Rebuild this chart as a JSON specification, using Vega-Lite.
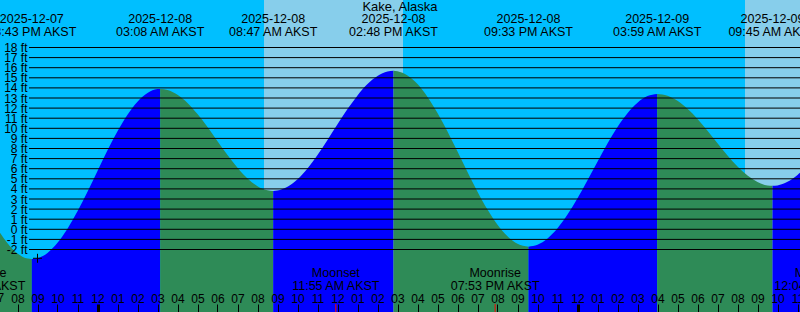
{
  "$schema": "https://vega.github.io/schema/vega-lite/v6.json",
  "width": 800,
  "height": 312,
  "autosize": "none",
  "padding": 0,
  "background": "#00bfff",
  "config": {
    "view": {"stroke": null},
    "axis": {"title": null},
    "text": {"font": "Liberation Sans", "fontSize": 12.5, "color": "black"}
  },
  "datasets": {
    "tide": [
      {"hour": 18.5, "ft": 1.83, "seg": "A", "dir": "fall"},
      {"hour": 19, "ft": 0.04, "seg": "A", "dir": "fall"},
      {"hour": 19.5, "ft": -1.38, "seg": "A", "dir": "fall"},
      {"hour": 20, "ft": -2.4, "seg": "A", "dir": "fall"},
      {"hour": 20.5, "ft": -2.9, "seg": "A", "dir": "fall"},
      {"hour": 20.717, "ft": -2.95, "seg": "A", "dir": "fall"},
      {"hour": 20.717, "ft": -2.95, "seg": "B", "dir": "rise"},
      {"hour": 21, "ft": -2.87, "seg": "B", "dir": "rise"},
      {"hour": 21.5, "ft": -2.34, "seg": "B", "dir": "rise"},
      {"hour": 22, "ft": -1.34, "seg": "B", "dir": "rise"},
      {"hour": 22.5, "ft": 0.06, "seg": "B", "dir": "rise"},
      {"hour": 23, "ft": 1.78, "seg": "B", "dir": "rise"},
      {"hour": 23.5, "ft": 3.73, "seg": "B", "dir": "rise"},
      {"hour": 24, "ft": 5.78, "seg": "B", "dir": "rise"},
      {"hour": 24.5, "ft": 7.82, "seg": "B", "dir": "rise"},
      {"hour": 25, "ft": 9.71, "seg": "B", "dir": "rise"},
      {"hour": 25.5, "ft": 11.35, "seg": "B", "dir": "rise"},
      {"hour": 26, "ft": 12.64, "seg": "B", "dir": "rise"},
      {"hour": 26.5, "ft": 13.5, "seg": "B", "dir": "rise"},
      {"hour": 27, "ft": 13.88, "seg": "B", "dir": "rise"},
      {"hour": 27.133, "ft": 13.9, "seg": "B", "dir": "rise"},
      {"hour": 27.133, "ft": 13.9, "seg": "C", "dir": "fall"},
      {"hour": 27.5, "ft": 13.8, "seg": "C", "dir": "fall"},
      {"hour": 28, "ft": 13.32, "seg": "C", "dir": "fall"},
      {"hour": 28.5, "ft": 12.51, "seg": "C", "dir": "fall"},
      {"hour": 29, "ft": 11.41, "seg": "C", "dir": "fall"},
      {"hour": 29.5, "ft": 10.12, "seg": "C", "dir": "fall"},
      {"hour": 30, "ft": 8.73, "seg": "C", "dir": "fall"},
      {"hour": 30.5, "ft": 7.35, "seg": "C", "dir": "fall"},
      {"hour": 31, "ft": 6.09, "seg": "C", "dir": "fall"},
      {"hour": 31.5, "ft": 5.03, "seg": "C", "dir": "fall"},
      {"hour": 32, "ft": 4.27, "seg": "C", "dir": "fall"},
      {"hour": 32.5, "ft": 3.86, "seg": "C", "dir": "fall"},
      {"hour": 32.783, "ft": 3.8, "seg": "C", "dir": "fall"},
      {"hour": 32.783, "ft": 3.8, "seg": "D", "dir": "rise"},
      {"hour": 33, "ft": 3.84, "seg": "D", "dir": "rise"},
      {"hour": 33.5, "ft": 4.21, "seg": "D", "dir": "rise"},
      {"hour": 34, "ft": 4.96, "seg": "D", "dir": "rise"},
      {"hour": 34.5, "ft": 6.03, "seg": "D", "dir": "rise"},
      {"hour": 35, "ft": 7.36, "seg": "D", "dir": "rise"},
      {"hour": 35.5, "ft": 8.85, "seg": "D", "dir": "rise"},
      {"hour": 36, "ft": 10.4, "seg": "D", "dir": "rise"},
      {"hour": 36.5, "ft": 11.9, "seg": "D", "dir": "rise"},
      {"hour": 37, "ft": 13.26, "seg": "D", "dir": "rise"},
      {"hour": 37.5, "ft": 14.38, "seg": "D", "dir": "rise"},
      {"hour": 38, "ft": 15.18, "seg": "D", "dir": "rise"},
      {"hour": 38.5, "ft": 15.63, "seg": "D", "dir": "rise"},
      {"hour": 38.8, "ft": 15.7, "seg": "D", "dir": "rise"},
      {"hour": 38.8, "ft": 15.7, "seg": "E", "dir": "fall"},
      {"hour": 39, "ft": 15.66, "seg": "E", "dir": "fall"},
      {"hour": 39.5, "ft": 15.24, "seg": "E", "dir": "fall"},
      {"hour": 40, "ft": 14.38, "seg": "E", "dir": "fall"},
      {"hour": 40.5, "ft": 13.11, "seg": "E", "dir": "fall"},
      {"hour": 41, "ft": 11.52, "seg": "E", "dir": "fall"},
      {"hour": 41.5, "ft": 9.68, "seg": "E", "dir": "fall"},
      {"hour": 42, "ft": 7.7, "seg": "E", "dir": "fall"},
      {"hour": 42.5, "ft": 5.68, "seg": "E", "dir": "fall"},
      {"hour": 43, "ft": 3.73, "seg": "E", "dir": "fall"},
      {"hour": 43.5, "ft": 1.95, "seg": "E", "dir": "fall"},
      {"hour": 44, "ft": 0.45, "seg": "E", "dir": "fall"},
      {"hour": 44.5, "ft": -0.69, "seg": "E", "dir": "fall"},
      {"hour": 45, "ft": -1.44, "seg": "E", "dir": "fall"},
      {"hour": 45.55, "ft": -1.72, "seg": "E", "dir": "fall"},
      {"hour": 45.55, "ft": -1.72, "seg": "F", "dir": "rise"},
      {"hour": 46, "ft": -1.54, "seg": "F", "dir": "rise"},
      {"hour": 46.5, "ft": -0.92, "seg": "F", "dir": "rise"},
      {"hour": 47, "ft": 0.1, "seg": "F", "dir": "rise"},
      {"hour": 47.5, "ft": 1.46, "seg": "F", "dir": "rise"},
      {"hour": 48, "ft": 3.08, "seg": "F", "dir": "rise"},
      {"hour": 48.5, "ft": 4.86, "seg": "F", "dir": "rise"},
      {"hour": 49, "ft": 6.7, "seg": "F", "dir": "rise"},
      {"hour": 49.5, "ft": 8.49, "seg": "F", "dir": "rise"},
      {"hour": 50, "ft": 10.13, "seg": "F", "dir": "rise"},
      {"hour": 50.5, "ft": 11.5, "seg": "F", "dir": "rise"},
      {"hour": 51, "ft": 12.54, "seg": "F", "dir": "rise"},
      {"hour": 51.5, "ft": 13.19, "seg": "F", "dir": "rise"},
      {"hour": 51.983, "ft": 13.4, "seg": "F", "dir": "rise"},
      {"hour": 51.983, "ft": 13.4, "seg": "G", "dir": "fall"},
      {"hour": 52.5, "ft": 13.22, "seg": "G", "dir": "fall"},
      {"hour": 53, "ft": 12.72, "seg": "G", "dir": "fall"},
      {"hour": 53.5, "ft": 11.93, "seg": "G", "dir": "fall"},
      {"hour": 54, "ft": 10.92, "seg": "G", "dir": "fall"},
      {"hour": 54.5, "ft": 9.75, "seg": "G", "dir": "fall"},
      {"hour": 55, "ft": 8.52, "seg": "G", "dir": "fall"},
      {"hour": 55.5, "ft": 7.31, "seg": "G", "dir": "fall"},
      {"hour": 56, "ft": 6.21, "seg": "G", "dir": "fall"},
      {"hour": 56.5, "ft": 5.32, "seg": "G", "dir": "fall"},
      {"hour": 57, "ft": 4.68, "seg": "G", "dir": "fall"},
      {"hour": 57.5, "ft": 4.34, "seg": "G", "dir": "fall"},
      {"hour": 57.75, "ft": 4.3, "seg": "G", "dir": "fall"},
      {"hour": 57.75, "ft": 4.3, "seg": "H", "dir": "rise"},
      {"hour": 58, "ft": 4.34, "seg": "H", "dir": "rise"},
      {"hour": 58.5, "ft": 4.7, "seg": "H", "dir": "rise"},
      {"hour": 59, "ft": 5.38, "seg": "H", "dir": "rise"},
      {"hour": 59.5, "ft": 6.34, "seg": "H", "dir": "rise"},
      {"hour": 60, "ft": 7.52, "seg": "H", "dir": "rise"}
    ],
    "sun": [
      {"rise": 32.325, "set": 39.275},
      {"rise": 56.375, "set": 63.25}
    ],
    "levels": [
      {"lvl": -2}, {"lvl": -1}, {"lvl": 0}, {"lvl": 1}, {"lvl": 2}, {"lvl": 3}, {"lvl": 4},
      {"lvl": 5}, {"lvl": 6}, {"lvl": 7}, {"lvl": 8}, {"lvl": 9}, {"lvl": 10}, {"lvl": 11},
      {"lvl": 12}, {"lvl": 13}, {"lvl": 14}, {"lvl": 15}, {"lvl": 16}, {"lvl": 17}, {"lvl": 18}
    ],
    "extremes": [
      {"hour": 20.717, "lab": "2025-12-07\n08:43 PM AKST"},
      {"hour": 27.133, "lab": "2025-12-08\n03:08 AM AKST"},
      {"hour": 32.783, "lab": "2025-12-08\n08:47 AM AKST"},
      {"hour": 38.8, "lab": "2025-12-08\n02:48 PM AKST"},
      {"hour": 45.55, "lab": "2025-12-08\n09:33 PM AKST"},
      {"hour": 51.983, "lab": "2025-12-09\n03:59 AM AKST"},
      {"hour": 57.75, "lab": "2025-12-09\n09:45 AM AKST"}
    ],
    "moon": [
      {"hour": 18.167, "lab": "Moonrise\n06:10 PM AKST"},
      {"hour": 35.917, "lab": "Moonset\n11:55 AM AKST"},
      {"hour": 43.883, "lab": "Moonrise\n07:53 PM AKST"},
      {"hour": 60.067, "lab": "Moonset\n12:04 PM AKST"}
    ],
    "now": [
      {"hour": 21, "ft": -2.87}
    ],
    "edgehour": [
      {"hour": 19, "lab": "07"}
    ]
  },
  "layer": [
    {
      "data": {"name": "sun"},
      "mark": {"type": "rect", "color": "#87ceeb", "clip": true},
      "encoding": {
        "x": {
          "field": "rise", "type": "quantitative",
          "scale": {"domain": [19.125, 59.125], "nice": false, "zero": false},
          "axis": {
            "orient": "top", "offset": -312,
            "values": [19, 20, 21, 22, 23, 24, 25, 26, 27, 28, 29, 30, 31, 32, 33, 34, 35, 36, 37, 38, 39, 40, 41, 42, 43, 44, 45, 46, 47, 48, 49, 50, 51, 52, 53, 54, 55, 56, 57, 58, 59],
            "tickCount": 1000,
            "labelExpr": "pad('' + ((datum.value % 12) || 12), 2, '0', 'left')",
            "domain": false, "grid": false,
            "tickSize": 8, "tickColor": "black",
            "tickWidth": {"condition": {"test": "datum.value % 24 === 0", "value": 3}, "value": 1},
            "labelPadding": 2, "labelBaseline": "alphabetic",
            "labelFont": "Liberation Sans", "labelFontSize": 12, "labelColor": "black",
            "labelOverlap": false, "labelFlush": false, "labelBound": false,
            "zindex": 1, "title": null
          }
        },
        "x2": {"field": "set"}
      }
    },
    {
      "data": {"name": "tide"},
      "mark": {"type": "area", "interpolate": "monotone", "clip": true},
      "encoding": {
        "x": {"field": "hour", "type": "quantitative"},
        "y": {
          "field": "ft", "type": "quantitative", "stack": null,
          "scale": {"domain": [-8.188, 22.703], "nice": false, "zero": false},
          "axis": {
            "orient": "left", "offset": -29,
            "values": [-2, -1, 0, 1, 2, 3, 4, 5, 6, 7, 8, 9, 10, 11, 12, 13, 14, 15, 16, 17, 18],
            "tickCount": 1000,
            "labelExpr": "datum.value + ' ft'",
            "ticks": false, "domain": false, "grid": false,
            "labelPadding": 2, "labelBaseline": "middle",
            "labelFont": "Liberation Sans", "labelFontSize": 12, "labelColor": "black",
            "labelOverlap": false, "labelFlush": false, "labelBound": false,
            "zindex": 1, "title": null
          }
        },
        "y2": {"datum": -8.188},
        "color": {
          "field": "dir", "type": "nominal",
          "scale": {"domain": ["rise", "fall"], "range": ["#0000ff", "#2e8b57"]},
          "legend": null
        },
        "detail": {"field": "seg"}
      }
    },
    {
      "data": {"name": "levels"},
      "mark": {"type": "rule", "color": "black", "strokeWidth": 1, "clip": true},
      "encoding": {
        "y": {"field": "lvl", "type": "quantitative"},
        "x": {"datum": 20.575},
        "x2": {"datum": 59.125}
      }
    },
    {
      "data": {"name": "now"},
      "mark": {"type": "point", "shape": "M-1,0L1,0M0,-1L0,1", "size": 81, "filled": false, "color": "black", "strokeWidth": 1, "opacity": 1},
      "encoding": {
        "x": {"field": "hour", "type": "quantitative"},
        "y": {"field": "ft", "type": "quantitative"}
      }
    },
    {
      "data": {"name": "moon"},
      "mark": {"type": "rule", "color": "red", "strokeWidth": 1, "clip": true},
      "encoding": {
        "x": {"field": "hour", "type": "quantitative"},
        "y": {"datum": -8.188},
        "y2": {"datum": -7.39}
      }
    },
    {
      "data": {"name": "moon"},
      "mark": {"type": "text", "align": "center", "baseline": "alphabetic", "lineBreak": "\n", "lineHeight": 12.4},
      "encoding": {
        "x": {"field": "hour", "type": "quantitative"},
        "y": {"datum": -4.75},
        "text": {"field": "lab", "type": "nominal"}
      }
    },
    {
      "data": {"name": "edgehour"},
      "mark": {"type": "text", "align": "center", "baseline": "alphabetic", "fontSize": 12},
      "encoding": {
        "x": {"field": "hour", "type": "quantitative"},
        "y": {"datum": -7.198},
        "text": {"field": "lab", "type": "nominal"}
      }
    },
    {
      "data": {"name": "extremes"},
      "mark": {"type": "text", "align": "center", "baseline": "alphabetic", "lineBreak": "\n", "lineHeight": 12.4},
      "encoding": {
        "x": {"field": "hour", "type": "quantitative"},
        "y": {"datum": 20.4},
        "text": {"field": "lab", "type": "nominal"}
      }
    },
    {
      "data": {"values": [{"name": "Kake, Alaska"}]},
      "mark": {"type": "text", "align": "center", "baseline": "alphabetic", "fontSize": 13, "x": {"expr": "width / 2"}},
      "encoding": {
        "y": {"datum": 21.61},
        "text": {"field": "name", "type": "nominal"}
      }
    }
  ]
}
